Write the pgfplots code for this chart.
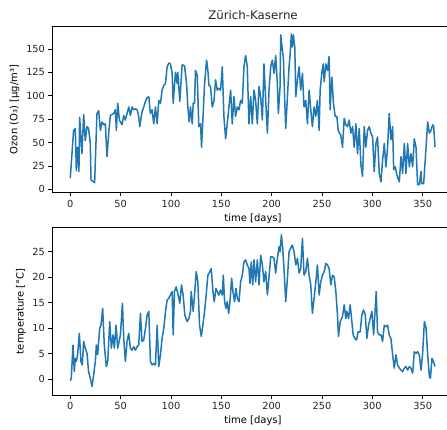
\documentclass[border=0pt]{standalone}
\usepackage{pgfplots}
\pgfplotsset{compat=1.18}
\usepackage{fontspec}
\setmainfont{DejaVu Sans}
\definecolor{mplblue}{HTML}{1F77B4}
\pgfplotsset{
  mpl/.style={
    scale only axis,
    width=402pt,
    axis line style={black, line width=0.8pt},
    tick align=outside,
    major tick length=3.5pt,
    every tick/.style={black, line width=0.8pt},
    xtick pos=bottom, ytick pos=left,
    /pgf/number format/assume math mode=true,
    tick label style={font=\fontsize{9.8}{11}\selectfont, text=black!85},
    label style={font=\fontsize{9.8}{11}\selectfont, text=black!85},
    xmin=-18.15, xmax=381.15,
    xtick={0,50,...,350},
    xlabel={time [days]},
    ylabel near ticks,
    xlabel near ticks,
    clip=true,
  },
}
\pgfplotstableread{
d v
0 12
3.3 63
5 65
6 20
7.3 45
8.6 19
9.3 77
11.6 38
13.3 80
14.9 52
16.6 67
18.2 65
19.9 49
20.6 10
23.2 8
24.2 7
26.5 81
28.2 84
29.9 63
31.5 72
33.2 69
34.8 70
36.5 35
38.2 60
39.8 79
43.1 81
44.8 85
45.8 63
47.1 92
48.8 74
51.4 69
53.1 79
54.7 74
56.4 81
58.1 88
59.7 79
61.4 88
63 85
64.7 86
66.4 85
68 78
69 67
71.3 83
73 88
74.7 94
76.3 98
78 99
79.6 81
81.3 85
82.9 70
84.6 88
86.3 70
87.9 95
89.6 92
91.2 106
92.9 111
94.6 113
96.2 131
97.9 135
99.5 134
101.2 124
102.2 92
104.5 125
106.2 113
106.8 125
108.8 94
111.1 133
113.5 132
115.5 113
116.8 88
118.1 72
119.4 88
121.1 70
122.1 92
123.4 92
124.4 127
126.1 122
127.7 67
129.4 70
130.4 45
132 81
133.4 113
135.4 138
136.7 127
137.7 111
139.3 110
141 88
142.7 94
144.3 117
146 106
147.6 108
149.3 106
151 131
152.6 78
154.3 54
155.9 70
157.6 88
159.3 106
160.9 70
162.6 99
164.2 78
165.9 88
167.6 85
169.2 95
170.9 92
172.5 131
174.2 143
175.8 131
177.5 70
179.2 99
180.8 70
182.5 106
184.1 95
185.8 70
187.5 110
189.1 99
190.8 74
192.4 134
194.1 95
195.8 60
197.4 106
199.1 131
200.7 138
202.4 124
204 143
205.7 113
206.7 81
208.4 110
209 165
210.7 149
211.7 140
213 95
214 65
215.7 99
217.3 131
218.3 143
219.6 166
220.6 152
221.6 165
223 152
224 99
225.6 117
227.3 131
228.9 106
230.6 124
232.2 88
233.9 95
235.6 70
237.2 106
238.9 85
240.5 67
242.2 88
243.9 78
245.5 95
247.2 63
248.2 106
249.8 124
251.2 134
252.2 115
253.8 134
255.5 127
257.1 142
258.1 85
259.8 120
261.4 92
263.1 78
264.8 78
266.1 63
267.4 60
268.7 58
270.4 45
272.1 76
273.7 69
275.4 67
277 74
278.7 60
280.4 67
282 45
283.7 70
285.3 38
287 65
288.7 26
290.3 14
292 67
293.6 45
295.3 63
296.9 67
298.6 60
300.3 56
301.9 19
303.6 49
305.2 56
306.9 17
308.6 8
310.2 31
311.9 49
313.5 24
315.2 45
316.8 81
318.5 53
320.2 67
321.2 21
322.8 24
324.5 15
326.8 8
328.5 35
330.1 17
331.8 49
333.4 17
335.1 49
336.8 24
338.4 38
340.1 24
341.7 54
343.4 45
345 5
346.7 5
348.4 19
349 6
351 6
353.4 45
355 72
356.7 60
358.3 63
360 69
361 67
362.3 45
}\ozon
\pgfplotstableread{
d v
0 -0.3
1 0.2
2.7 6.7
4 1.5
5 4.1
6 3.5
7.3 4.8
9 9.0
10.6 3.5
11.9 2.8
13.3 7.4
14.9 6.1
16.6 5.1
18.2 1.5
19.9 0.2
21.6 -1.4
23.2 0.8
24.9 3.5
25.9 6.7
27.2 4.8
29.2 10.0
30.5 10.6
32.2 13.9
33.8 6.7
35.8 2.5
37.2 3.5
39.2 11.3
40.8 6.1
42.5 8.7
43.8 6.1
45.5 10.6
47.1 6.1
48.1 7.0
49.8 8.7
51.8 14.9
53.1 8.0
54.7 3.5
56.4 7.4
58.1 9.0
59.7 6.1
61.4 5.7
63 6.4
64.7 5.7
66.4 6.4
68 6.7
69.7 12.9
71.3 7.4
73 7.7
74.7 10.0
76.3 12.6
78 13.3
79.6 3.5
81.3 2.8
82.9 3.1
84.6 2.8
86.3 10.6
87.9 2.5
89.6 4.8
91.2 8.0
92.9 10.0
94.6 13.3
96.2 15.5
97.9 15.9
99.5 16.5
101.2 17.2
102.2 8.7
103.5 17.2
105.2 18.1
107.2 16.5
108.8 14.9
110.5 18.5
112.1 16.5
113.8 12.6
116.1 11.3
117.8 11.9
119.4 13.3
120.1 17.2
122.1 13.3
123.4 16.5
125.1 21.1
126.7 19.1
128.4 10.6
130.1 8.4
131.7 10.6
133.4 13.3
135 16.5
136.7 20.4
138.7 21.1
140 21.7
141.7 17.2
143 15.2
144.7 17.8
146 17.2
147.6 16.5
149.3 17.5
151 16.5
152 20.4
153.3 15.2
154.6 13.9
155.9 15.2
157.3 12.9
158.6 15.2
160.3 19.8
161.6 17.2
163.2 15.2
164.6 17.8
165.9 15.9
167.6 15.2
169.2 19.1
170.9 20.4
172.5 23.0
174.2 23.4
175.8 22.4
177.5 21.7
178.5 18.8
179.8 23.0
181.2 18.5
182.5 23.4
184.1 19.1
185.8 23.4
187.5 18.5
189.1 24.3
190.8 22.4
192.4 19.1
194.1 21.1
195.8 16.5
197.4 20.1
199.1 24.0
200.7 24.0
202.4 23.7
204 20.8
205.7 23.7
207.4 26.0
208.4 25.0
209.7 28.3
211 25.7
212.3 21.7
214 15.2
215.7 19.8
217.3 25.0
219 25.7
220.6 26.3
222.3 25.0
224 22.4
225.6 23.7
227.3 20.8
228.9 21.7
230.6 27.6
232.2 20.4
233.9 21.1
235.6 23.7
237.2 20.4
238.9 18.5
240.5 12.9
242.2 15.9
243.9 19.1
245.5 22.4
247.2 16.5
248.8 19.1
250.5 20.4
252.2 21.1
253.8 22.7
255.5 22.4
257.1 21.7
258.8 18.5
260.5 20.4
262.1 20.1
263.8 17.2
265.4 12.6
266.4 8.4
268.1 11.3
270.4 12.3
272.1 14.6
273.7 11.9
274.7 13.3
276.4 11.9
278 14.6
279.4 11.9
281 8.7
282.7 8.0
284.3 7.7
286 9.3
288 9.3
289.6 12.6
291.3 13.6
293 12.6
294.6 8.0
296.3 10.6
297.9 11.9
299.6 13.3
301.3 8.7
302.9 13.9
303.9 17.2
305.2 9.3
306.9 8.7
308.6 8.7
310.2 7.4
311.9 10.6
313.5 10.3
315.2 10.6
316.8 8.7
318.5 8.0
320.2 4.8
321.8 2.2
323.5 4.8
325.1 2.8
326.8 2.2
328.5 1.8
330.1 1.5
331.8 2.2
333.4 2.5
335.1 1.8
336.8 2.5
338.4 2.2
340.1 1.2
341.7 5.4
343.4 5.1
345 5.4
346.7 4.8
348.4 1.8
350 5.1
351.7 11.3
353.4 10.0
355 4.8
356.7 0.5
357.7 0.2
359.3 4.1
360.7 3.5
362.3 2.5
}\temp
\begin{document}
\begin{tikzpicture}[x=1pt,y=1pt]
\begin{axis}[mpl,
  at={(52pt,236.3pt)}, anchor=south west,
  height=166.4pt,
  ymin=-3.6, ymax=174.2,
  ytick={0,25,...,150},
  ylabel={Ozon (O₃) [µg/m³]},
  title={Zürich-Kaserne},
  title style={font=\fontsize{11.8}{14}\selectfont, text=black!85, yshift=-3pt},
]
\addplot[mplblue, line width=1.5pt, line join=round] table[x=d,y=v] {\ozon};
\end{axis}
\begin{axis}[mpl,
  at={(52pt,34pt)}, anchor=south west,
  height=167.7pt,
  ymin=-3.08, ymax=29.78,
  ytick={0,5,...,25},
  ylabel={temperature [°C]},
]
\addplot[mplblue, line width=1.5pt, line join=round] table[x=d,y=v] {\temp};
\end{axis}
\pgfresetboundingbox
\useasboundingbox (0,0) rectangle (447,429);
\end{tikzpicture}
\end{document}
